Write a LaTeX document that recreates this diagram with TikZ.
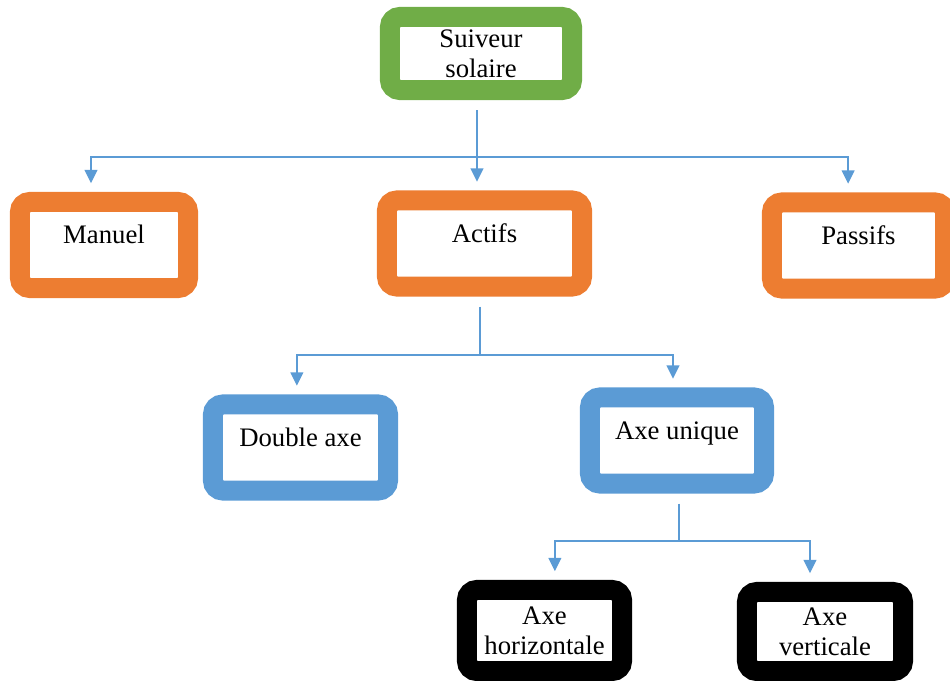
\documentclass[tikz,border=0pt]{standalone}
\usepackage{fontspec}
\setmainfont{Liberation Serif}
\usepackage{tikz}
\usetikzlibrary{arrows.meta,positioning}
\definecolor{sgreen}{RGB}{112,173,71}
\definecolor{sorange}{RGB}{237,125,49}
\definecolor{sblue}{RGB}{91,155,213}
\definecolor{linkblue}{RGB}{91,155,213}

\begin{document}
\begin{tikzpicture}[x=0.025cm,y=-0.025cm,
 frame/.style={draw=#1,line width=0.5cm,rounded corners=0.25cm,fill=white,inner sep=0pt,
  font=\fontsize{19}{21.3}\selectfont,align=center},
 single/.style={text height=1.05cm,text depth=1.1cm},
 wire/.style={draw=linkblue,line width=1pt},
 feed/.style={wire,-{Triangle[width=0.32cm,length=0.33cm]},shorten >=0.22cm}]
\useasboundingbox (0,0) rectangle (950,681);
% ---------- boxes
\node[frame=sgreen,minimum width=4.55cm,minimum height=1.825cm] (sol) at (481,53.5){Suiveur\\solaire};
\node[frame=sorange,single,minimum width=4.2cm] (man) at (104,245){Manuel};
\node[frame=sorange,single,minimum width=4.875cm] (act) at (484.5,243.5){Actifs};
\node[frame=sorange,single,minimum width=4.325cm] (pas) at (858.5,245.5){Passifs};
\node[frame=sblue,single,minimum width=4.375cm] (dbl) at (300.5,447.5){Double axe};
\node[frame=sblue,single,minimum width=4.35cm] (uni) at (677,440.5){Axe unique};
\node[frame=black,minimum width=3.875cm,minimum height=2.025cm] (hor) at (544.5,630.5){Axe\\horizontale};
\node[frame=black,minimum width=3.9cm,minimum height=1.975cm] (ver) at (825,631.5){Axe\\verticale};
% ---------- junctions
\coordinate (j1) at (477,157);
\coordinate (j2) at (480,355);
\coordinate (j3) at (679,541);
% ---------- links
\draw[wire,shorten <=0.25cm] (j1 |- sol.south) -- (j1);
\draw[feed] (j1) -| ([xshift=-0.325cm]man.north);
\draw[feed] (j1) -- (j1 |- act.north);
\draw[feed] (j1) -| ([xshift=-0.26cm]pas.north);
\draw[wire,shorten <=0.25cm] (j2 |- act.south) -- (j2);
\draw[feed] (j2) -| ([xshift=-0.09cm]dbl.north);
\draw[feed] (j2) -| ([xshift=-0.1cm]uni.north);
\draw[wire,shorten <=0.25cm] (j3 |- uni.south) -- (j3);
\draw[feed] (j3) -| ([xshift=0.26cm]hor.north);
\draw[feed] (j3) -| ([xshift=-0.375cm]ver.north);
\end{tikzpicture}
\end{document}
